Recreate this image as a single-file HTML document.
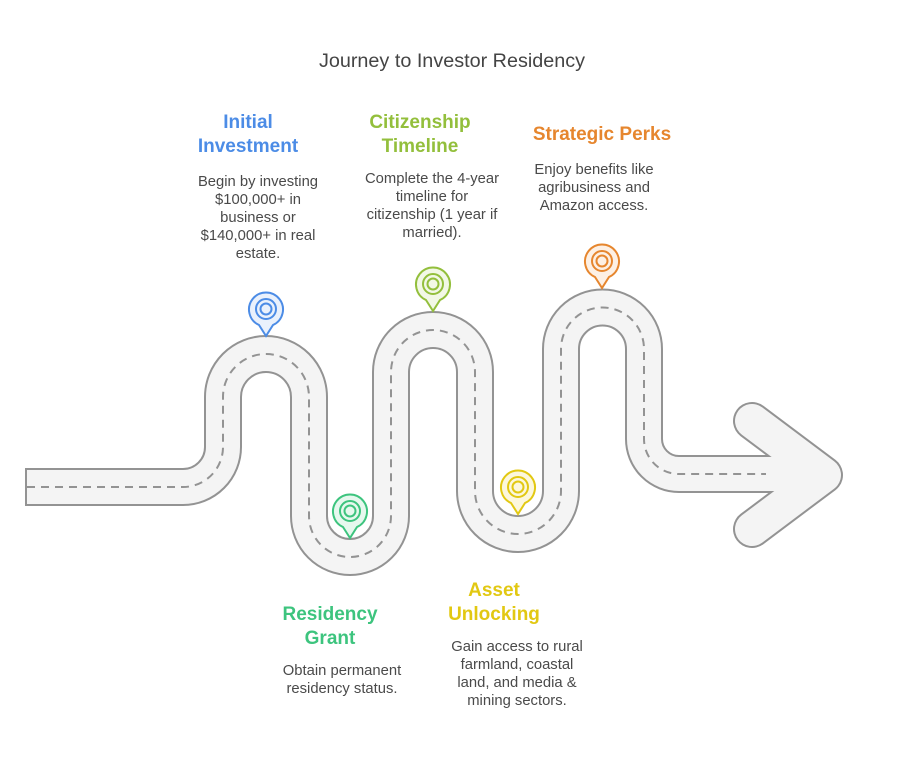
<!DOCTYPE html>
<html><head><meta charset="utf-8"><style>
html,body{margin:0;padding:0;background:#fff;}
svg{display:block;font-family:"Liberation Sans",Arial,sans-serif;}
.h{font-weight:bold;font-size:19px;text-anchor:middle;}
.d{font-size:14.8px;fill:#4a4a4a;text-anchor:middle;}
</style></head><body>
<svg width="903" height="759" viewBox="0 0 903 759" xmlns="http://www.w3.org/2000/svg">
<text x="452" y="67" font-size="19.8" fill="#444" text-anchor="middle">Journey to Investor Residency</text>
<g fill="none">
<path d="M25 487 H183 A40 40 0 0 0 223 447 V397 A43 43 0 0 1 309 397 V516 A41 41 0 0 0 391 516 V372 A42 42 0 0 1 475 372 V491 A43 43 0 0 0 561 491 V349 A41.5 41.5 0 0 1 644 349 V439 A35 35 0 0 0 679 474 H815" stroke="#939393" stroke-width="38"/>
<polyline points="752,421 824,475 752,529" stroke="#939393" stroke-width="38" stroke-linecap="round" stroke-linejoin="round"/>
<path d="M27 487 H183 A40 40 0 0 0 223 447 V397 A43 43 0 0 1 309 397 V516 A41 41 0 0 0 391 516 V372 A42 42 0 0 1 475 372 V491 A43 43 0 0 0 561 491 V349 A41.5 41.5 0 0 1 644 349 V439 A35 35 0 0 0 679 474 H815" stroke="#f4f4f4" stroke-width="34"/>
<polyline points="752,421 824,475 752,529" stroke="#f4f4f4" stroke-width="34" stroke-linecap="round" stroke-linejoin="round"/>
<path d="M27 487 H183 A40 40 0 0 0 223 447 V397 A43 43 0 0 1 309 397 V516 A41 41 0 0 0 391 516 V372 A42 42 0 0 1 475 372 V491 A43 43 0 0 0 561 491 V349 A41.5 41.5 0 0 1 644 349 V439 A35 35 0 0 0 679 474 H766" stroke="#939393" stroke-width="2" stroke-dasharray="8 6"/>
</g>
<g stroke-width="2">
<g stroke="#4c8ce6" fill="#eaf1fc"><path d="M266 336 L259 325 A17 17 0 1 1 273 325 Z"/><circle cx="266" cy="309" r="10"/><circle cx="266" cy="309" r="5.5"/></g>
<g stroke="#3dc47e" fill="#e6f8ee"><path d="M350 538 L343 527 A17 17 0 1 1 357 527 Z"/><circle cx="350" cy="511" r="10"/><circle cx="350" cy="511" r="5.5"/></g>
<g stroke="#93bf3c" fill="#f2f8e6"><path d="M433 311 L426 300 A17 17 0 1 1 440 300 Z"/><circle cx="433" cy="284" r="10"/><circle cx="433" cy="284" r="5.5"/></g>
<g stroke="#e2c812" fill="#fcf7dc"><path d="M518 514 L511 503 A17 17 0 1 1 525 503 Z"/><circle cx="518" cy="487" r="10"/><circle cx="518" cy="487" r="5.5"/></g>
<g stroke="#e6862e" fill="#fdf0e4"><path d="M602 288 L595 277 A17 17 0 1 1 609 277 Z"/><circle cx="602" cy="261" r="10"/><circle cx="602" cy="261" r="5.5"/></g>
</g>
<text class="h" fill="#4c8ce6"><tspan x="248" y="128">Initial</tspan><tspan x="248" y="152">Investment</tspan></text>
<text class="d"><tspan x="258" y="186">Begin by investing</tspan><tspan x="258" y="204">$100,000+ in</tspan><tspan x="258" y="222">business or</tspan><tspan x="258" y="240">$140,000+ in real</tspan><tspan x="258" y="258">estate.</tspan></text>
<text class="h" fill="#93bf3c"><tspan x="420" y="128">Citizenship</tspan><tspan x="420" y="152">Timeline</tspan></text>
<text class="d"><tspan x="432" y="183">Complete the 4-year</tspan><tspan x="432" y="201">timeline for</tspan><tspan x="432" y="219">citizenship (1 year if</tspan><tspan x="432" y="237">married).</tspan></text>
<text class="h" fill="#e6862e"><tspan x="602" y="140">Strategic Perks</tspan></text>
<text class="d"><tspan x="594" y="174">Enjoy benefits like</tspan><tspan x="594" y="192">agribusiness and</tspan><tspan x="594" y="210">Amazon access.</tspan></text>
<text class="h" fill="#3dc47e"><tspan x="330" y="620">Residency</tspan><tspan x="330" y="644">Grant</tspan></text>
<text class="d"><tspan x="342" y="675">Obtain permanent</tspan><tspan x="342" y="693">residency status.</tspan></text>
<text class="h" fill="#e2c812"><tspan x="494" y="596">Asset</tspan><tspan x="494" y="620">Unlocking</tspan></text>
<text class="d"><tspan x="517" y="651">Gain access to rural</tspan><tspan x="517" y="669">farmland, coastal</tspan><tspan x="517" y="687">land, and media &amp;</tspan><tspan x="517" y="705">mining sectors.</tspan></text>
</svg>
</body></html>
